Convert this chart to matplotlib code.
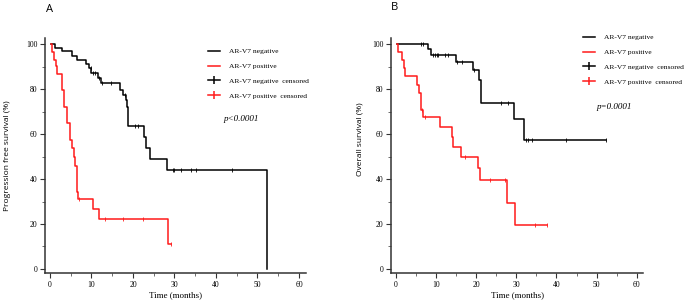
import numpy as np
import matplotlib.pyplot as plt
from matplotlib.lines import Line2D

# ---- panel A : progression free survival (step starts / levels) ----
pfs_neg_t = [0.2, 1.2, 2.8, 5.2, 6.4, 8.8, 9.5, 10.0, 11.6, 12.2, 16.9, 17.5, 18.3, 18.6, 18.9, 22.7, 23.1, 24.1, 28.1, 52.2]
pfs_neg_s = [100, 98.2, 96.9, 94.9, 93.0, 91.1, 89.3, 87.4, 84.9, 82.6, 79.7, 77.4, 75.2, 72.0, 63.6, 58.6, 53.7, 48.8, 44.0, 0]
pfs_neg_cens = [9.9, 10.4, 10.8, 11.9, 12.6, 14.6, 18.2, 20.5, 21.3, 29.6, 29.9, 31.6, 34.0, 35.3, 43.9]

pfs_pos_t = [0.2, 0.4, 1.0, 1.4, 1.8, 2.8, 3.4, 4.0, 4.8, 5.4, 5.8, 6.0, 6.4, 6.8, 10.3, 11.9, 28.5, 29.1]
pfs_pos_s = [100, 96.5, 93.0, 90.4, 86.8, 79.7, 72.2, 64.8, 57.4, 53.7, 49.7, 46.0, 34.4, 31.0, 26.6, 22.1, 11.1, 11.1]
pfs_pos_cens = [7.0, 13.2, 17.5, 22.5, 29.1]

# ---- panel B : overall survival ----
os_neg_t = [0.2, 8.1, 8.7, 14.9, 19.3, 20.8, 21.2, 29.5, 31.8, 52.4]
os_neg_s = [100, 97.9, 95.2, 92.2, 88.5, 84.1, 73.7, 66.6, 57.6, 57.6]
os_neg_cens = [6.2, 6.9, 9.3, 9.7, 10.2, 10.6, 12.3, 13.0, 15.2, 16.6, 19.6, 26.2, 28.0, 32.4, 32.8, 33.8, 42.4, 52.4]

os_pos_t = [0.2, 0.5, 1.5, 2.1, 2.3, 5.2, 5.9, 6.3, 6.7, 11.0, 13.9, 14.3, 16.3, 20.4, 21.0, 27.6, 29.7, 37.6]
os_pos_s = [100, 96.4, 93.0, 89.3, 85.7, 81.8, 78.1, 70.7, 67.8, 63.3, 58.6, 54.4, 49.7, 44.8, 39.6, 29.5, 19.6, 19.6]
os_pos_cens = [6.6, 7.2, 17.3, 23.5, 27.2, 34.7, 37.6]

labels = ["AR-V7 negative", "AR-V7 positive", "AR-V7 negative  censored", "AR-V7 positive  censored"]
RED = "#ff1a1a"
SERIF = "Liberation Serif"
SANS = "Open Sans"


def level_at(t, s, x):
    i = np.searchsorted(t, x, side="right") - 1
    return np.array(s)[np.clip(i, 0, len(s) - 1)]


def km(ax, t, s, cens, color):
    ax.step(t, s, where="post", color=color, lw=1.1)
    ax.plot(cens, level_at(t, s, cens), ls="None", marker="|", ms=3, mew=0.6, color=color)


def style(ax, xlim):
    for sp in ["top", "right"]:
        ax.spines[sp].set_visible(False)
    for sp in ["left", "bottom"]:
        ax.spines[sp].set_linewidth(1.1)
        ax.spines[sp].set_color("#333333")
    ax.set_xlim(*xlim)
    ax.set_ylim(-1.8, 102.8)
    ax.set_xticks(range(0, 61, 10))
    ax.set_xticks(range(5, 61, 10), minor=True)
    ax.set_yticks(range(0, 101, 20))
    ax.set_yticks(range(10, 101, 20), minor=True)
    ax.tick_params(which="major", length=3.5, width=0.8, labelsize=5.5, pad=2, color="#333333")
    ax.tick_params(which="minor", length=2, width=0.6, color="#555555")
    for lab in ax.get_xticklabels() + ax.get_yticklabels():
        lab.set_family(SERIF)
    ax.set_xlabel("Time (months)", family=SERIF, fontsize=6.5, labelpad=2)


fig = plt.figure(figsize=(6.85, 3.03), dpi=100)
axA = fig.add_axes([45 / 685, 30 / 303, 261 / 685, 235 / 303])
axB = fig.add_axes([391 / 685, 30 / 303, 252.3 / 685, 235 / 303])

km(axA, pfs_neg_t, pfs_neg_s, pfs_neg_cens, "black")
km(axA, pfs_pos_t, pfs_pos_s, pfs_pos_cens, RED)
km(axB, os_neg_t, os_neg_s, os_neg_cens, "black")
km(axB, os_pos_t, os_pos_s, os_pos_cens, RED)

style(axA, (-1.2, 61.7))
style(axB, (-1.17, 61.6))

fig.text(8 / 685, 1 - 156 / 303, "Progression free survival (%)", rotation=90, family=SANS,
         fontsize=6, ha="center", va="center")
fig.text(360 / 685, 1 - 139 / 303, "Overall survival (%)", rotation=90, family=SANS,
         fontsize=6, ha="center", va="center")

fig.text(46 / 685, 1 - 9 / 303, "A", family=SANS, fontsize=8, ha="left", va="center")
fig.text(391 / 685, 1 - 8 / 303, "B", family=SANS, fontsize=8, ha="left", va="center")

handles = [Line2D([], [], color="black", lw=1.1),
           Line2D([], [], color=RED, lw=1.1),
           Line2D([], [], color="black", lw=1.1, marker="|", ms=6, mew=1.1),
           Line2D([], [], color=RED, lw=1.1, marker="|", ms=6, mew=1.1)]

for ax, x0, y0 in [(axA, 208 / 685, 1 - 48 / 303), (axB, 583 / 685, 1 - 34 / 303)]:
    ax.legend(handles, labels, loc="upper left", bbox_to_anchor=(x0, y0), bbox_transform=fig.transFigure,
              frameon=False, borderpad=0, borderaxespad=0, handlelength=1.6, handletextpad=1.2,
              labelspacing=1.15, prop={"family": SERIF, "size": 5.4})

fig.text(241 / 685, 1 - 119 / 303, "p<0.0001", family=SERIF, style="italic", fontsize=6.5,
         ha="center", va="center")
fig.text(614 / 685, 1 - 107 / 303, "p=0.0001", family=SERIF, style="italic", fontsize=6.5,
         ha="center", va="center")

fig.savefig("out.png", dpi=100)
